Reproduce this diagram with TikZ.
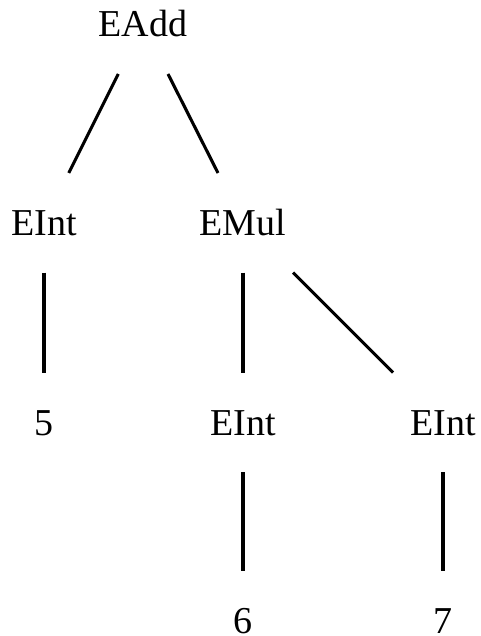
\documentclass[tikz,border=0pt]{standalone}
\usepackage{fontspec}
\setmainfont{Liberation Serif}
\usetikzlibrary{calc}
\tikzset{
  lbl/.style={anchor=base, inner sep=0pt, outer sep=0pt, text height=25pt, text depth=0pt, font=\fontsize{38}{40}\selectfont},
  edge/.style={line width=3.1pt, black}
}
\newcommand{\treeedge}[2]{\draw[edge] ($(#1)!0.25!(#2)$) -- ($(#1)!0.75!(#2)$);}
\begin{document}
\begin{tikzpicture}[x=1pt,y=-1pt]
\useasboundingbox (0,0) rectangle (481,636);
\node[lbl] (add) at (143,37) {EAdd};
\node[lbl] (intA) at (44,235) {EInt};
\node[lbl] (mul) at (243,235) {EMul};
\node[lbl] (five) at (44,435) {5};
\node[lbl] (intB) at (243,435) {EInt};
\node[lbl] (intC) at (443,435) {EInt};
\node[lbl] (six) at (243,633.5) {6};
\node[lbl] (seven) at (443,633.5) {7};
\treeedge{add}{intA}
\treeedge{add}{mul}
\treeedge{intA}{five}
\treeedge{mul}{intB}
\treeedge{mul}{intC}
\treeedge{intB}{six}
\treeedge{intC}{seven}
\end{tikzpicture}
\end{document}
